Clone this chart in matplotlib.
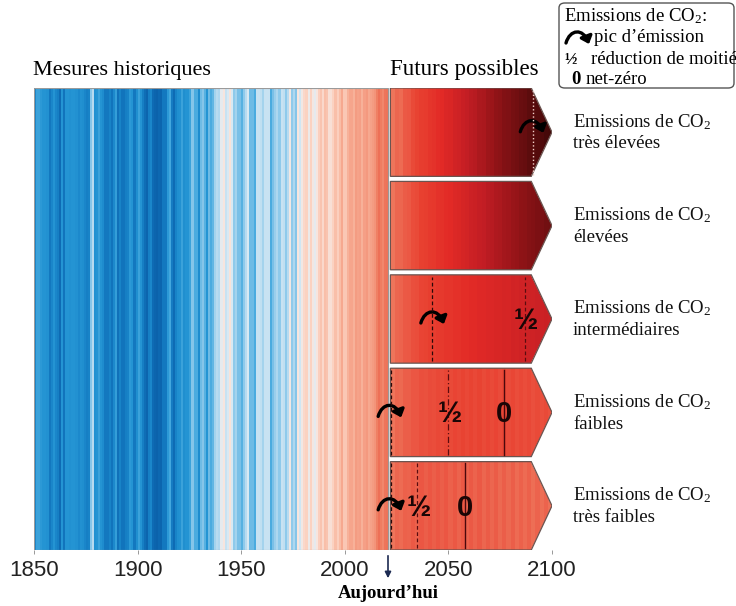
"""
Bandes de réchauffement : mesures historiques (1850-2020) et futurs possibles
selon cinq scénarios d'émissions de CO2 jusqu'en 2100.

Sortie : out.png (736x606 px)
"""

import numpy as np
import matplotlib
matplotlib.use("Agg")
import matplotlib.pyplot as plt
from matplotlib.colors import LinearSegmentedColormap, Normalize
from matplotlib.patches import Polygon, FancyArrowPatch, FancyBboxPatch
from matplotlib.path import Path
from matplotlib.transforms import ScaledTranslation

plt.rcParams["font.family"] = ["Liberation Serif", "DejaVu Serif"]
plt.rcParams["mathtext.default"] = "regular"

HIST_START = 1850
hist_anom = [
    -0.42, -0.23, -0.23, -0.27, -0.29, -0.30, -0.32, -0.47, -0.39, -0.28,
    -0.39, -0.43, -0.54, -0.30, -0.50, -0.29, -0.30, -0.32, -0.28, -0.28,
    -0.32, -0.37, -0.32, -0.33, -0.39, -0.43, -0.42, -0.10, 0.00, -0.32,
    -0.30, -0.23, -0.28, -0.35, -0.46, -0.47, -0.42, -0.50, -0.38, -0.25,
    -0.51, -0.40, -0.50, -0.50, -0.44, -0.41, -0.27, -0.28, -0.46, -0.33,
    -0.23, -0.29, -0.44, -0.53, -0.60, -0.44, -0.39, -0.55, -0.59, -0.61,
    -0.58, -0.59, -0.48, -0.47, -0.27, -0.21, -0.45, -0.55, -0.41, -0.33,
    -0.31, -0.24, -0.33, -0.30, -0.30, -0.23, -0.09, -0.20, -0.19, -0.35,
    -0.14, -0.10, -0.16, -0.29, -0.14, -0.20, -0.15, -0.03, 0.00, -0.02,
    0.12, 0.18, 0.06, 0.08, 0.20, 0.09, -0.07, -0.03, -0.11, -0.11,
    -0.17, -0.07, 0.01, 0.08, -0.13, -0.14, -0.19, 0.05, 0.06, 0.03,
    -0.03, 0.06, 0.04, 0.05, -0.20, -0.11, -0.06, -0.02, -0.08, 0.05,
    0.03, -0.08, 0.01, 0.16, -0.07, -0.01, -0.10, 0.18, 0.07, 0.16,
    0.26, 0.32, 0.14, 0.31, 0.16, 0.12, 0.18, 0.33, 0.40, 0.27,
    0.45, 0.41, 0.22, 0.23, 0.32, 0.45, 0.33, 0.47, 0.61, 0.38,
    0.39, 0.54, 0.63, 0.62, 0.54, 0.68, 0.64, 0.66, 0.54, 0.66,
    0.72, 0.61, 0.65, 0.68, 0.75, 0.90, 1.02, 0.92, 0.85, 0.98,
    1.01,
]

# futurs : une valeur tous les 2 ans, de 2022 à 2100
FUT_START = 2022
FUT_STEP = 2
fut_very_high = [
    0.98, 1.10, 1.06, 1.22, 1.26, 1.38, 1.46, 1.57, 1.60, 1.76,
    1.80, 1.94, 1.98, 2.12, 2.16, 2.30, 2.36, 2.48, 2.56, 2.68,
    2.74, 2.88, 2.93, 3.08, 3.13, 3.27, 3.32, 3.46, 3.50, 3.64,
    3.68, 3.82, 3.86, 3.99, 4.04, 4.14, 4.18, 4.30, 4.34, 4.44,
]
fut_high = [
    0.98, 1.10, 1.10, 1.20, 1.24, 1.35, 1.38, 1.50, 1.54, 1.66,
    1.70, 1.80, 1.84, 1.95, 1.98, 2.10, 2.14, 2.25, 2.28, 2.40,
    2.44, 2.55, 2.58, 2.70, 2.74, 2.85, 2.88, 3.00, 3.04, 3.15,
    3.18, 3.30, 3.32, 3.44, 3.46, 3.56, 3.58, 3.68, 3.70, 3.78,
]
fut_intermediate = [
    0.98, 1.10, 1.12, 1.22, 1.24, 1.33, 1.35, 1.44, 1.46, 1.55,
    1.56, 1.65, 1.66, 1.75, 1.76, 1.84, 1.84, 1.92, 1.92, 2.00,
    2.00, 2.07, 2.06, 2.13, 2.12, 2.19, 2.18, 2.25, 2.23, 2.30,
    2.28, 2.34, 2.32, 2.38, 2.36, 2.42, 2.40, 2.45, 2.43, 2.48,
]
fut_low = [
    0.98, 1.10, 1.08, 1.18, 1.18, 1.26, 1.25, 1.32, 1.30, 1.37,
    1.34, 1.40, 1.37, 1.43, 1.39, 1.45, 1.40, 1.46, 1.40, 1.46,
    1.40, 1.46, 1.39, 1.45, 1.38, 1.44, 1.37, 1.43, 1.36, 1.42,
    1.35, 1.41, 1.34, 1.40, 1.33, 1.39, 1.32, 1.38, 1.31, 1.37,
]
fut_very_low = [
    0.98, 1.10, 1.06, 1.16, 1.12, 1.22, 1.16, 1.25, 1.18, 1.26,
    1.18, 1.26, 1.17, 1.25, 1.16, 1.24, 1.14, 1.23, 1.13, 1.22,
    1.12, 1.21, 1.11, 1.20, 1.10, 1.19, 1.09, 1.18, 1.08, 1.17,
    1.07, 1.16, 1.06, 1.15, 1.05, 1.14, 1.04, 1.13, 1.03, 1.12,
]

scenario_names = ["très élevées", "élevées", "intermédiaires", "faibles", "très faibles"]
scenario_values = [fut_very_high, fut_high, fut_intermediate, fut_low, fut_very_low]

# années des repères : pic d'émission, réduction de moitié, net-zéro (None = absent)
peak_years = [2091, None, 2042, 2022.4, 2022.4]
half_years = [None, None, 2087, 2050, 2035]
netzero_years = [None, None, None, 2077, 2058]

tick_years = [1850, 1900, 1950, 2000, 2050, 2100]

# --- Palette ---
cmap_nodes = [
    (-0.62, "#0b62ab"), (-0.50, "#1174bc"), (-0.40, "#1a86ca"), (-0.30, "#2494d3"),
    (-0.20, "#4aabdf"), (-0.10, "#84c5e9"), (0.00, "#b7dbf0"), (0.10, "#dfecf4"),
    (0.18, "#f7e6df"), (0.30, "#fbd2c2"), (0.50, "#f8b8a0"), (0.70, "#f49a80"),
    (0.95, "#ee7a5e"), (1.20, "#eb5a46"), (1.50, "#e84030"), (2.00, "#e22a26"),
    (2.60, "#c21d24"), (3.20, "#961418"), (3.80, "#6a0e10"), (4.50, "#3a0606"),
]
vmin, vmax = cmap_nodes[0][0], cmap_nodes[-1][0]
cmap = LinearSegmentedColormap.from_list(
    "stripes", [((v - vmin) / (vmax - vmin), c) for v, c in cmap_nodes])
norm = Normalize(vmin, vmax)

W, H = 736, 606
GAP = 0.057
TOTAL = 5 + 4 * GAP
SANS = ["Liberation Sans", "DejaVu Sans"]

# forme de la flèche "pic" (en pouces autour de son centre)
ARC = Path([(-0.12, -0.04), (-0.08, 0.10), (0.05, 0.11), (0.11, -0.05)],
           [Path.MOVETO, Path.CURVE4, Path.CURVE4, Path.CURVE4])


def fx(px):
    return px / W


def fy(py):
    return 1 - py / H


fig = plt.figure(figsize=(W / 100, H / 100), dpi=100)
ax = fig.add_axes([fx(34), fy(550), 518 / W, 462 / H])
ax.set_xlim(1850, 2100)
ax.set_ylim(0, TOTAL)

# bandes historiques
hist_edges = HIST_START + np.arange(len(hist_anom) + 1)
ax.pcolormesh(hist_edges, [0, TOTAL], np.array(hist_anom)[None, :],
              cmap=cmap, norm=norm, shading="flat")
ax.add_patch(plt.Rectangle((HIST_START, 0), len(hist_anom), TOTAL,
                           fill=False, edgecolor="#9a9a9a", lw=0.8))


def peak_arrow(x, y, base):
    """Flèche courbe noire du pic d'émission, centrée en (x, y) de `base`."""
    tr = fig.dpi_scale_trans + ScaledTranslation(x, y, base)
    return FancyArrowPatch(path=ARC, transform=tr,
                           arrowstyle="-|>,head_length=0.32,head_width=0.28",
                           mutation_scale=13, lw=2.4, color="black")


for i, (name, vals) in enumerate(zip(scenario_names, scenario_values)):
    y0 = (4 - i) * (1 + GAP)
    fut_edges = FUT_START + FUT_STEP * np.arange(len(vals) + 1)
    mesh = ax.pcolormesh(fut_edges, [y0, y0 + 1], np.array(vals)[None, :],
                         cmap=cmap, norm=norm, shading="flat")
    shape = Polygon([(FUT_START, y0), (2090, y0), (2100, y0 + 0.5),
                     (2090, y0 + 1), (FUT_START, y0 + 1)], closed=True,
                    facecolor="none", edgecolor="#6b5450", lw=0.9)
    ax.add_patch(shape)
    mesh.set_clip_path(shape)

    ymid = y0 + 0.5
    if peak_years[i] is not None:
        px = peak_years[i]
        if i == 0:
            ax.plot([px, px], [y0 + 0.02, y0 + 0.98], ls=(0, (1, 1.6)),
                    color="#f2d0c8", lw=1.0)
            cx, cy = px - 0.5, ymid + 0.05
        else:
            ax.plot([px, px], [y0 + 0.02, y0 + 0.98], ls=(0, (3, 2)),
                    color="#2a0808", lw=0.9)
            cx, cy = px + (0.5 if i == 2 else -0.5), ymid
        ax.add_patch(peak_arrow(cx, cy, ax.transData))
    if half_years[i] is not None:
        hx = half_years[i]
        ls = (0, (5, 2, 1, 2)) if i == 3 else (0, (3, 2))
        ax.plot([hx, hx], [y0 + 0.02, y0 + 0.98], ls=ls, color="#5a0c10", lw=0.9)
        ax.text(hx + 0.5, ymid - 0.02, "½", ha="center", va="center",
                fontsize=21, fontweight="bold", color="#1a0606", family=SANS)
    if netzero_years[i] is not None:
        nx = netzero_years[i]
        ax.plot([nx, nx], [y0 + 0.02, y0 + 0.98], ls="-", color="#4a080c", lw=1.0)
        ax.text(nx, ymid - 0.02, "0", ha="center", va="center",
                fontsize=21, fontweight="bold", color="#1a0606", family=SANS)

    # étiquette à droite
    ymid_px = 88 + (i + 0.5) * (462 / TOTAL) + i * (462 / TOTAL) * GAP
    fig.text(fx(573), fy(ymid_px), "Emissions de CO$_2$\n" + name,
             ha="left", va="center", fontsize=13.5, linespacing=1.3, color="#111")

# axe des années
for s in ax.spines.values():
    s.set_visible(False)
ax.set_yticks([])
ax.set_xticks(tick_years)
ax.tick_params(axis="x", direction="out", length=3, width=0.6, color="#888",
               pad=4, labelsize=16, labelcolor="#222")
for lab in ax.get_xticklabels():
    lab.set_family(SANS)

# titres
fig.text(fx(33), fy(70), "Mesures historiques", ha="left", va="center", fontsize=16)
fig.text(fx(390), fy(70), "Futurs possibles", ha="left", va="center", fontsize=16.5)

# aujourd'hui
fig.add_artist(FancyArrowPatch((fx(388), fy(553)), (fx(388), fy(581)),
                               transform=fig.transFigure, arrowstyle="-|>",
                               mutation_scale=9, lw=1.2, color="#1c2a52"))
fig.text(fx(388), fy(594), "Aujourd’hui", ha="center", va="center",
         fontsize=13.5, fontweight="bold")

# légende
fig.add_artist(FancyBboxPatch((fx(559), fy(88)), (734 - 559) / W, 85 / H,
                              boxstyle="round,pad=0,rounding_size=0.008",
                              transform=fig.transFigure, facecolor="white",
                              edgecolor="#555", lw=1.0))
fig.text(fx(564), fy(16), "Emissions de CO$_2$:", ha="left", va="center", fontsize=13.5)
fig.add_artist(peak_arrow(fx(578), fy(39), fig.transFigure))
fig.text(fx(594), fy(37), "pic d’émission", ha="left", va="center", fontsize=13.5)
fig.text(fx(571), fy(59), "½", ha="center", va="center", fontsize=12, fontweight="bold")
fig.text(fx(591), fy(59), "réduction de moitié", ha="left", va="center", fontsize=13.5)
fig.text(fx(576), fy(80), "0", ha="center", va="center", fontsize=13.5, fontweight="bold")
fig.text(fx(586), fy(80), "net-zéro", ha="left", va="center", fontsize=13.5)

fig.savefig("out.png", dpi=100)
plt.close(fig)
